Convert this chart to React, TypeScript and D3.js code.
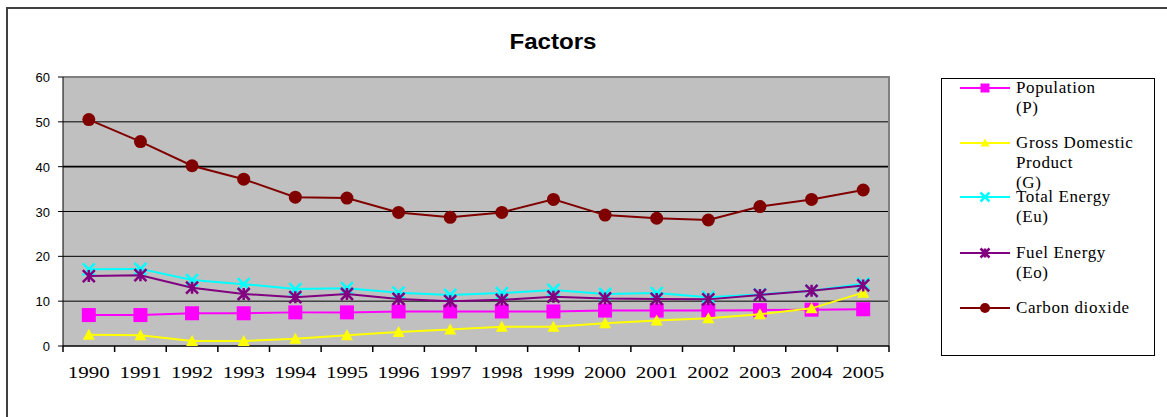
import React from "react";
import * as d3 from "d3";

// chart data
const years = ["1990", "1991", "1992", "1993", "1994", "1995", "1996", "1997", "1998", "1999", "2000", "2001", "2002", "2003", "2004", "2005"];
const population = [6.9, 6.9, 7.3, 7.3, 7.5, 7.5, 7.7, 7.7, 7.7, 7.7, 7.9, 7.9, 7.9, 8.0, 8.1, 8.2];
const gdp = [2.5, 2.4, 1.1, 1.1, 1.6, 2.4, 3.1, 3.7, 4.3, 4.3, 5.1, 5.7, 6.2, 7.1, 8.4, 11.9];
const totalEnergy = [17.1, 17.2, 14.7, 13.8, 12.7, 12.9, 11.9, 11.4, 11.8, 12.5, 11.6, 11.8, 10.9, 11.5, 12.3, 13.9];
const fuelEnergy = [15.6, 15.8, 13.0, 11.6, 10.9, 11.6, 10.5, 10.0, 10.3, 11.0, 10.6, 10.5, 10.4, 11.4, 12.3, 13.5];
const carbonDioxide = [50.5, 45.6, 40.2, 37.2, 33.2, 33.0, 29.8, 28.7, 29.8, 32.7, 29.2, 28.5, 28.1, 31.1, 32.7, 34.8];
const yTicks = [0, 10, 20, 30, 40, 50, 60];

type Marker = "square" | "triangle" | "x" | "star" | "circle";
const series: { name: string[]; values: number[]; color: string; marker: Marker }[] = [
  { name: ["Population", "(P)"], values: population, color: "#FF00FF", marker: "square" },
  { name: ["Gross Domestic", "Product", "(G)"], values: gdp, color: "#FFFF00", marker: "triangle" },
  { name: ["Total Energy", "(Eu)"], values: totalEnergy, color: "#00FFFF", marker: "x" },
  { name: ["Fuel Energy", "(Eo)"], values: fuelEnergy, color: "#800080", marker: "star" },
  { name: ["Carbon dioxide"], values: carbonDioxide, color: "#800000", marker: "circle" },
];

const W = 1167;
const H = 417;
const plot = { left: 63, top: 77, right: 889, bottom: 346 };

function MarkerShape({ type, x, y, color, size }: { type: Marker; x: number; y: number; color: string; size: number }) {
  const h = size / 2;
  if (type === "square") return <rect x={x - h} y={y - h} width={size} height={size} fill={color} />;
  if (type === "triangle")
    return <path d={`M${x},${y - h} L${x + h},${y + h - 1} L${x - h},${y + h - 1} Z`} fill={color} />;
  if (type === "circle") return <circle cx={x} cy={y} r={h} fill={color} />;
  const arms = [
    `M${x - h},${y - h} L${x + h},${y + h}`,
    `M${x - h},${y + h} L${x + h},${y - h}`,
  ];
  if (type === "star") arms.push(`M${x},${y - h} L${x},${y + h}`);
  return <path d={arms.join(" ")} stroke={color} strokeWidth={2.5} fill="none" />;
}

export default function App() {
  const x = d3.scaleBand<string>().domain(years).range([plot.left, plot.right]);
  const y = d3.scaleLinear().domain([0, 60]).range([plot.bottom, plot.top]);
  const cx = (yr: string) => (x(yr) ?? 0) + x.bandwidth() / 2;
  const line = d3
    .line<number>()
    .x((_, i) => cx(years[i]))
    .y((v) => y(v));

  const legendLines = [88, 143, 197, 253, 308];

  return (
    <svg width={W} height={H} style={{ position: "absolute", left: 0, top: 0 }}>
      <rect width={W} height={H} fill="#fff" />
      {/* outer chart border */}
      <path d={`M7,${H} V8 H${W}`} fill="none" stroke="#404040" strokeWidth={2} />

      <text x={553} y={49} textAnchor="middle" fontFamily="Liberation Sans, Arial" fontWeight="bold" fontSize={22} textLength={87} lengthAdjust="spacingAndGlyphs">
        Factors
      </text>

      {/* plot area */}
      <rect x={plot.left} y={plot.top} width={plot.right - plot.left} height={plot.bottom - plot.top} fill="#C0C0C0" />
      <path d={`M${plot.left},${plot.top} H${plot.right} V${plot.bottom}`} fill="none" stroke="#808080" strokeWidth={2} />
      {yTicks.slice(1, -1).map((t) => (
        <line key={t} x1={plot.left} x2={plot.right - 1} y1={y(t)} y2={y(t)} stroke="#000" strokeWidth={t === 40 ? 1.6 : 1} />
      ))}
      <line x1={plot.left} x2={plot.left} y1={plot.top} y2={plot.bottom} stroke="#000" />
      <line x1={plot.left} x2={plot.right} y1={plot.bottom} y2={plot.bottom} stroke="#000" strokeWidth={1.5} />

      {yTicks.map((t) => (
        <g key={t}>
          <line x1={plot.left - 5} x2={plot.left} y1={y(t)} y2={y(t)} stroke="#000" />
          <text x={50} y={y(t) + 5} textAnchor="end" fontFamily="Liberation Sans, Arial" fontSize={13}>
            {t}
          </text>
        </g>
      ))}
      {[...years.map((yr) => x(yr) ?? 0), plot.right].map((px, i) => (
        <line key={i} x1={px} x2={px} y1={plot.bottom} y2={plot.bottom + 6} stroke="#000" strokeWidth={1.5} />
      ))}
      {years.map((yr) => (
        <text key={yr} x={cx(yr)} y={378} textAnchor="middle" fontFamily="Liberation Serif, Times New Roman" fontSize={17} textLength={42} lengthAdjust="spacingAndGlyphs">
          {yr}
        </text>
      ))}

      {/* series */}
      {series.map((s) => (
        <g key={s.name[0]}>
          <path d={line(s.values) ?? ""} fill="none" stroke={s.color} strokeWidth={2} />
          {s.values.map((v, i) => (
            <MarkerShape key={i} type={s.marker} x={cx(years[i])} y={y(v)} color={s.color} size={s.marker === "circle" ? 13 : s.marker === "square" ? 14 : 12} />
          ))}
        </g>
      ))}

      {/* legend */}
      <rect x={941.5} y={78.5} width={213} height={277} fill="#fff" stroke="#000" />
      {series.map((s, i) => {
        const ly = legendLines[i];
        return (
          <g key={s.name[0]}>
            <line x1={960} x2={1010} y1={ly} y2={ly} stroke={s.color} strokeWidth={2} />
            <MarkerShape type={s.marker} x={985} y={ly} color={s.color} size={s.marker === "circle" ? 10 : 9} />
            {s.name.map((n, j) => (
              <text key={j} x={1016} y={ly + 5 + j * 20} fontFamily="Liberation Serif, Times New Roman" fontSize={17} letterSpacing={0.6} fill="#000">
                {n}
              </text>
            ))}
          </g>
        );
      })}
    </svg>
  );
}
